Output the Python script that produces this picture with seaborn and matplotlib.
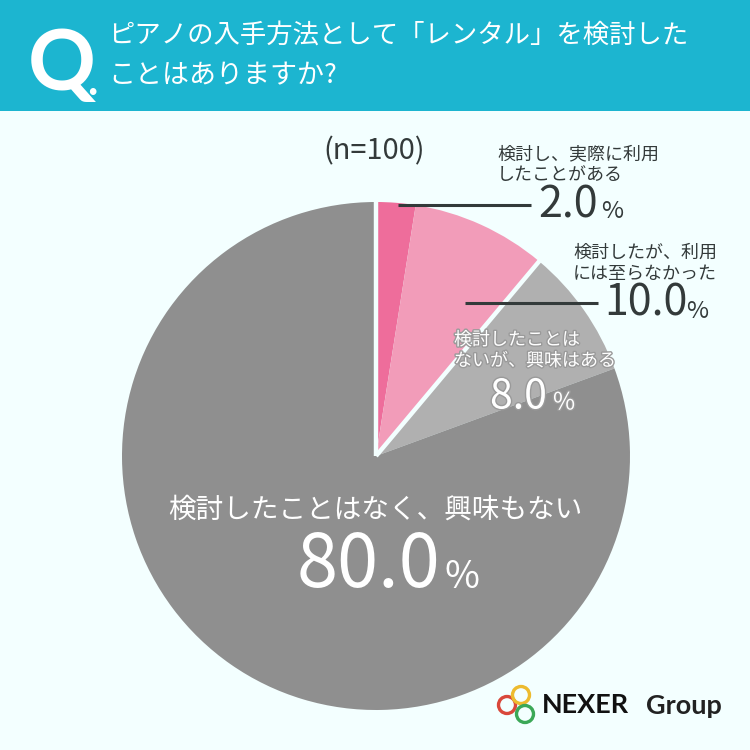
import matplotlib
matplotlib.use("Agg")
import matplotlib.pyplot as plt
import matplotlib.patheffects as pe
from matplotlib.patches import Circle
import numpy as np
import seaborn as sns

# Slice shares as drawn in the picture (clockwise from 12 o'clock)
categories = ["検討し、実際に利用\nしたことがある", "検討したが、利用\nには至らなかった",
              "検討したことは\nないが、興味はある", "検討したことはなく、興味もない"]
drawn_shares = [2.5, 8.6, 8.3, 80.6]
value_labels = ["2.0", "10.0", "8.0", "80.0"]
colors = ["#EE6D9B", "#F29CB9", "#B0B0B0", "#8F8F8F"]
title_lines = ["ピアノの入手方法として「レンタル」を検討した", "ことはありますか?"]
sample_note = "(n=100)"
brand = ["NEXER", "Group"]

sns.set_theme(style="white")
JP = ["Noto Sans CJK JP", "DejaVu Sans"]
NUM = ["Lato", "DejaVu Sans"]
plt.rcParams["font.family"] = JP

BG, HEAD, DARK = "#F3FFFF", "#1CB5D0", "#333A3A"
fig = plt.figure(figsize=(7.5, 7.5), dpi=100, facecolor=BG)
ax = fig.add_axes([0, 0, 1, 1])
ax.set_facecolor(BG)

ax.axhspan(0, 111, color=HEAD, lw=0, zorder=0)

cx, cy, r = 376, 456, 254
wedges, _ = ax.pie(drawn_shares, colors=sns.color_palette(colors), startangle=90, counterclock=False,
                   center=(cx, -cy), radius=r, wedgeprops=dict(lw=0), normalize=True)
ax.set_xlim(0, 750)
ax.set_ylim(-750, 0)
ax.axhspan(-111, 0, color=HEAD, lw=0, zorder=0)
ax.set_aspect("equal")
ax.axis("off")

# white separators: at 12 o'clock and between slices 2 and 3
cum = np.cumsum(drawn_shares) / 100 * 2 * np.pi
for ang in (0, cum[1]):
    ax.plot([cx, cx + (r + 2) * np.sin(ang)], [-cy, -cy + (r + 2) * np.cos(ang)],
            color=BG, lw=3.2, solid_capstyle="butt", zorder=3)

def T(x, y, s, px, color=DARK, ha="left", fam=JP, weight="normal", **kw):
    return ax.text(x, -y, s, fontsize=px * 0.72, color=color, ha=ha, va="center",
                   family=fam, fontweight=weight, zorder=5, **kw)

# header
T(28, 66, "Q", 84, color="white", fam=NUM, weight="bold")
T(87, 82, ".", 44, color="white", fam=NUM, weight="bold")
T(108, 35, title_lines[0], 26.4, color="white")
T(108, 76, title_lines[1], 27, color="white")

T(374, 151, sample_note, 29, ha="center")

# leaders
ax.plot([398, 531], [-205, -205], color=DARK, lw=2.2, zorder=4, solid_capstyle="butt")
ax.plot([465, 598], [-303, -303], color=DARK, lw=2.2, zorder=4, solid_capstyle="butt")

halo = [pe.withStroke(linewidth=2, foreground="#9A9A9A")]
# 2%
a, b = categories[0].split("\n")
T(497, 154, a, 18); T(497, 175, b, 18)
T(538, 206, value_labels[0], 43)
T(601, 212, "%", 24)
# 10%
a, b = categories[1].split("\n")
T(573, 253, a, 18); T(573, 274, b, 18)
T(604, 304, value_labels[1], 43)
T(686, 311, "%", 24)
# 8%
a, b = categories[2].split("\n")
T(454, 340, a, 18, color="white", path_effects=halo)
T(454, 361, b, 18, color="white", path_effects=halo)
T(490, 397, value_labels[2], 41, color="white", path_effects=halo)
T(553, 403, "%", 24, color="white", path_effects=halo)
# 80%
T(375, 510, categories[3], 27.6, color="white", ha="center")
T(297, 566, value_labels[3], 74, color="white")
T(444, 577, "%", 38, color="white")

# logo
for (x, y, c) in [(507, 705, "#D9483B"), (521, 695, "#EDBB2F"), (525, 714, "#3BA857")]:
    ax.add_patch(Circle((x, -y), 8.5, fill=False, ec=c, lw=2.4, zorder=5))
T(542, 705, brand[0], 27, color="#111111", fam=NUM, weight="bold")
T(646, 706, brand[1], 27, color="#222222", fam=NUM, weight="bold")

fig.savefig("out.png", dpi=100, facecolor=BG)
